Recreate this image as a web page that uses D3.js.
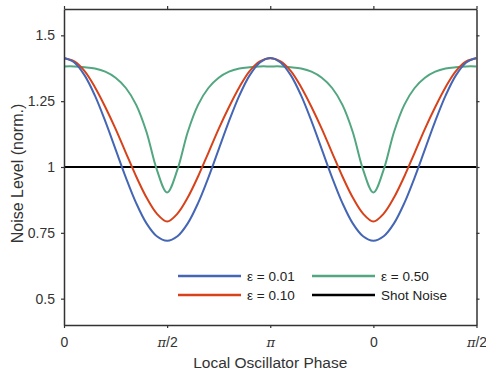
<!DOCTYPE html>
<html>
<head>
<meta charset="utf-8">
<script src="https://cdn.jsdelivr.net/npm/d3@7"></script>
<style>
  body { margin: 0; background: #fff; }
  svg text { font-family: "Liberation Sans", Arial, sans-serif; fill: #333; }
</style>
</head>
<body>
<div id="chart"></div>
<script>
// phase in units of pi (0 .. 2pi), sampled every pi/20
var phase = [0, 0.05, 0.1, 0.15, 0.2, 0.25, 0.3, 0.35, 0.4, 0.45, 0.5,
             0.55, 0.6, 0.65, 0.7, 0.75, 0.8, 0.85, 0.9, 0.95, 1.0,
             1.05, 1.1, 1.15, 1.2, 1.25, 1.3, 1.35, 1.4, 1.45, 1.5,
             1.55, 1.6, 1.65, 1.7, 1.75, 1.8, 1.85, 1.9, 1.95, 2.0];

// noise level
var eps001 = [1.414, 1.397, 1.348, 1.271, 1.174, 1.067, 0.960, 0.863, 0.786, 0.737, 0.720,
              0.737, 0.786, 0.863, 0.960, 1.067, 1.174, 1.271, 1.348, 1.397, 1.414,
              1.397, 1.348, 1.271, 1.174, 1.067, 0.960, 0.863, 0.786, 0.737, 0.720,
              0.737, 0.786, 0.863, 0.960, 1.067, 1.174, 1.271, 1.348, 1.397, 1.414];
var eps010 = [1.413, 1.401, 1.364, 1.303, 1.228, 1.145, 1.054, 0.964, 0.884, 0.823, 0.793,
              0.823, 0.884, 0.964, 1.054, 1.145, 1.228, 1.303, 1.364, 1.401, 1.413,
              1.401, 1.364, 1.303, 1.228, 1.145, 1.054, 0.964, 0.884, 0.823, 0.793,
              0.823, 0.884, 0.964, 1.054, 1.145, 1.228, 1.303, 1.364, 1.401, 1.413];
var eps050 = [1.382, 1.382, 1.379, 1.374, 1.362, 1.339, 1.300, 1.236, 1.133, 0.990, 0.903,
              0.990, 1.133, 1.236, 1.300, 1.339, 1.362, 1.374, 1.379, 1.382, 1.382,
              1.382, 1.379, 1.374, 1.362, 1.339, 1.300, 1.236, 1.133, 0.990, 0.903,
              0.990, 1.133, 1.236, 1.300, 1.339, 1.362, 1.374, 1.379, 1.382, 1.382];
var shotNoise = 1;

var seriesNames = ["\u03b5 = 0.01", "\u03b5 = 0.10", "\u03b5 = 0.50", "Shot Noise"];
var seriesColors = ["#4466b5", "#d8421b", "#52a680", "#000000"];

var xTicks = [0, 0.5, 1, 1.5, 2];
var xTickLabels = ["0", "\u03c0/2", "\u03c0", "0", "\u03c0/2"];
var yTicks = [0.5, 0.75, 1, 1.25, 1.5];
var yTickLabels = ["0.5", "0.75", "1", "1.25", "1.5"];

var width = 486, height = 377;
var pLeft = 64, pRight = 476.5, pTop = 9, pBottom = 325;

var svg = d3.select("#chart").append("svg")
  .attr("width", width)
  .attr("height", height);

var x = d3.scaleLinear().domain([0, 2]).range([pLeft, pRight]);
var y = d3.scaleLinear().domain([0.4, 1.6]).range([pBottom, pTop]);

svg.append("defs").append("clipPath").attr("id", "clip")
  .append("rect")
  .attr("x", pLeft).attr("y", pTop)
  .attr("width", pRight - pLeft).attr("height", pBottom - pTop);

// curves
var line = d3.line()
  .x(function(d, i) { return x(phase[i]); })
  .y(function(d) { return y(d); })
  .curve(d3.curveCatmullRom);

var plot = svg.append("g").attr("clip-path", "url(#clip)");

plot.append("line")
  .attr("x1", x(0)).attr("x2", x(2))
  .attr("y1", y(shotNoise)).attr("y2", y(shotNoise))
  .attr("stroke", seriesColors[3])
  .attr("stroke-width", 2);

[eps050, eps010, eps001].forEach(function(s, k) {
  var idx = 2 - k;
  plot.append("path")
    .datum(s)
    .attr("fill", "none")
    .attr("stroke", seriesColors[idx])
    .attr("stroke-width", 2)
    .attr("d", line);
});

// axes
function styleAxis(g) {
  g.select(".domain").attr("stroke", "#333").attr("stroke-width", 1.5);
  g.selectAll(".tick line").attr("stroke", "#333").attr("stroke-width", 1.2);
  g.selectAll(".tick text").attr("fill", "#333").style("font-size", "14px")
    .style("font-family", "'Liberation Sans', Arial, sans-serif");
}

var xAxis = svg.append("g")
  .attr("transform", "translate(0," + pBottom + ")")
  .call(d3.axisBottom(x).tickValues(xTicks).tickSizeInner(3).tickSizeOuter(0).tickPadding(9)
    .tickFormat(function(d, i) { return xTickLabels[i]; }))
  .call(styleAxis);

// pi glyphs in italic serif
xAxis.selectAll(".tick text").each(function(d, i) {
  var lab = xTickLabels[i];
  var t = d3.select(this);
  if (lab.indexOf("\u03c0") < 0) return;
  t.text(null);
  t.append("tspan")
    .style("font-family", "'DejaVu Serif', 'Liberation Serif', serif")
    .style("font-style", "italic")
    .style("font-size", "13px")
    .text("\u03c0");
  var rest = lab.replace("\u03c0", "");
  if (rest) t.append("tspan").text(rest);
});

svg.append("g")
  .attr("transform", "translate(" + pLeft + ",0)")
  .call(d3.axisLeft(y).tickValues(yTicks).tickSizeInner(3).tickSizeOuter(0).tickPadding(6)
    .tickFormat(function(d, i) { return yTickLabels[i]; }))
  .call(styleAxis);

svg.append("g")
  .attr("transform", "translate(0," + pTop + ")")
  .call(d3.axisTop(x).tickValues(xTicks).tickSizeInner(3).tickSizeOuter(0).tickFormat(""))
  .call(styleAxis);

svg.append("g")
  .attr("transform", "translate(" + pRight + ",0)")
  .call(d3.axisRight(y).tickValues(yTicks).tickSizeInner(3).tickSizeOuter(0).tickFormat(""))
  .call(styleAxis);

// axis titles
svg.append("text")
  .attr("x", (pLeft + pRight) / 2)
  .attr("y", 368)
  .attr("text-anchor", "middle")
  .style("font-size", "15.5px")
  .text("Local Oscillator Phase");

svg.append("text")
  .attr("transform", "translate(23," + 173.5 + ") rotate(-90)")
  .attr("text-anchor", "middle")
  .style("font-size", "16px")
  .text("Noise Level (norm.)");

// legend
var legendPos = [
  {lx: 178, ly: 276}, {lx: 178, ly: 295},
  {lx: 312, ly: 276}, {lx: 312, ly: 295}
];
var legend = svg.append("g");
seriesNames.forEach(function(name, i) {
  var p = legendPos[i];
  legend.append("line")
    .attr("x1", p.lx).attr("x2", p.lx + 63)
    .attr("y1", p.ly).attr("y2", p.ly)
    .attr("stroke", seriesColors[i])
    .attr("stroke-width", 2.5);
  legend.append("text")
    .attr("x", p.lx + 69)
    .attr("y", p.ly)
    .attr("dy", "0.35em")
    .style("font-size", "13.5px")
    .style("fill", "#222")
    .text(name);
});
</script>
</body>
</html>
